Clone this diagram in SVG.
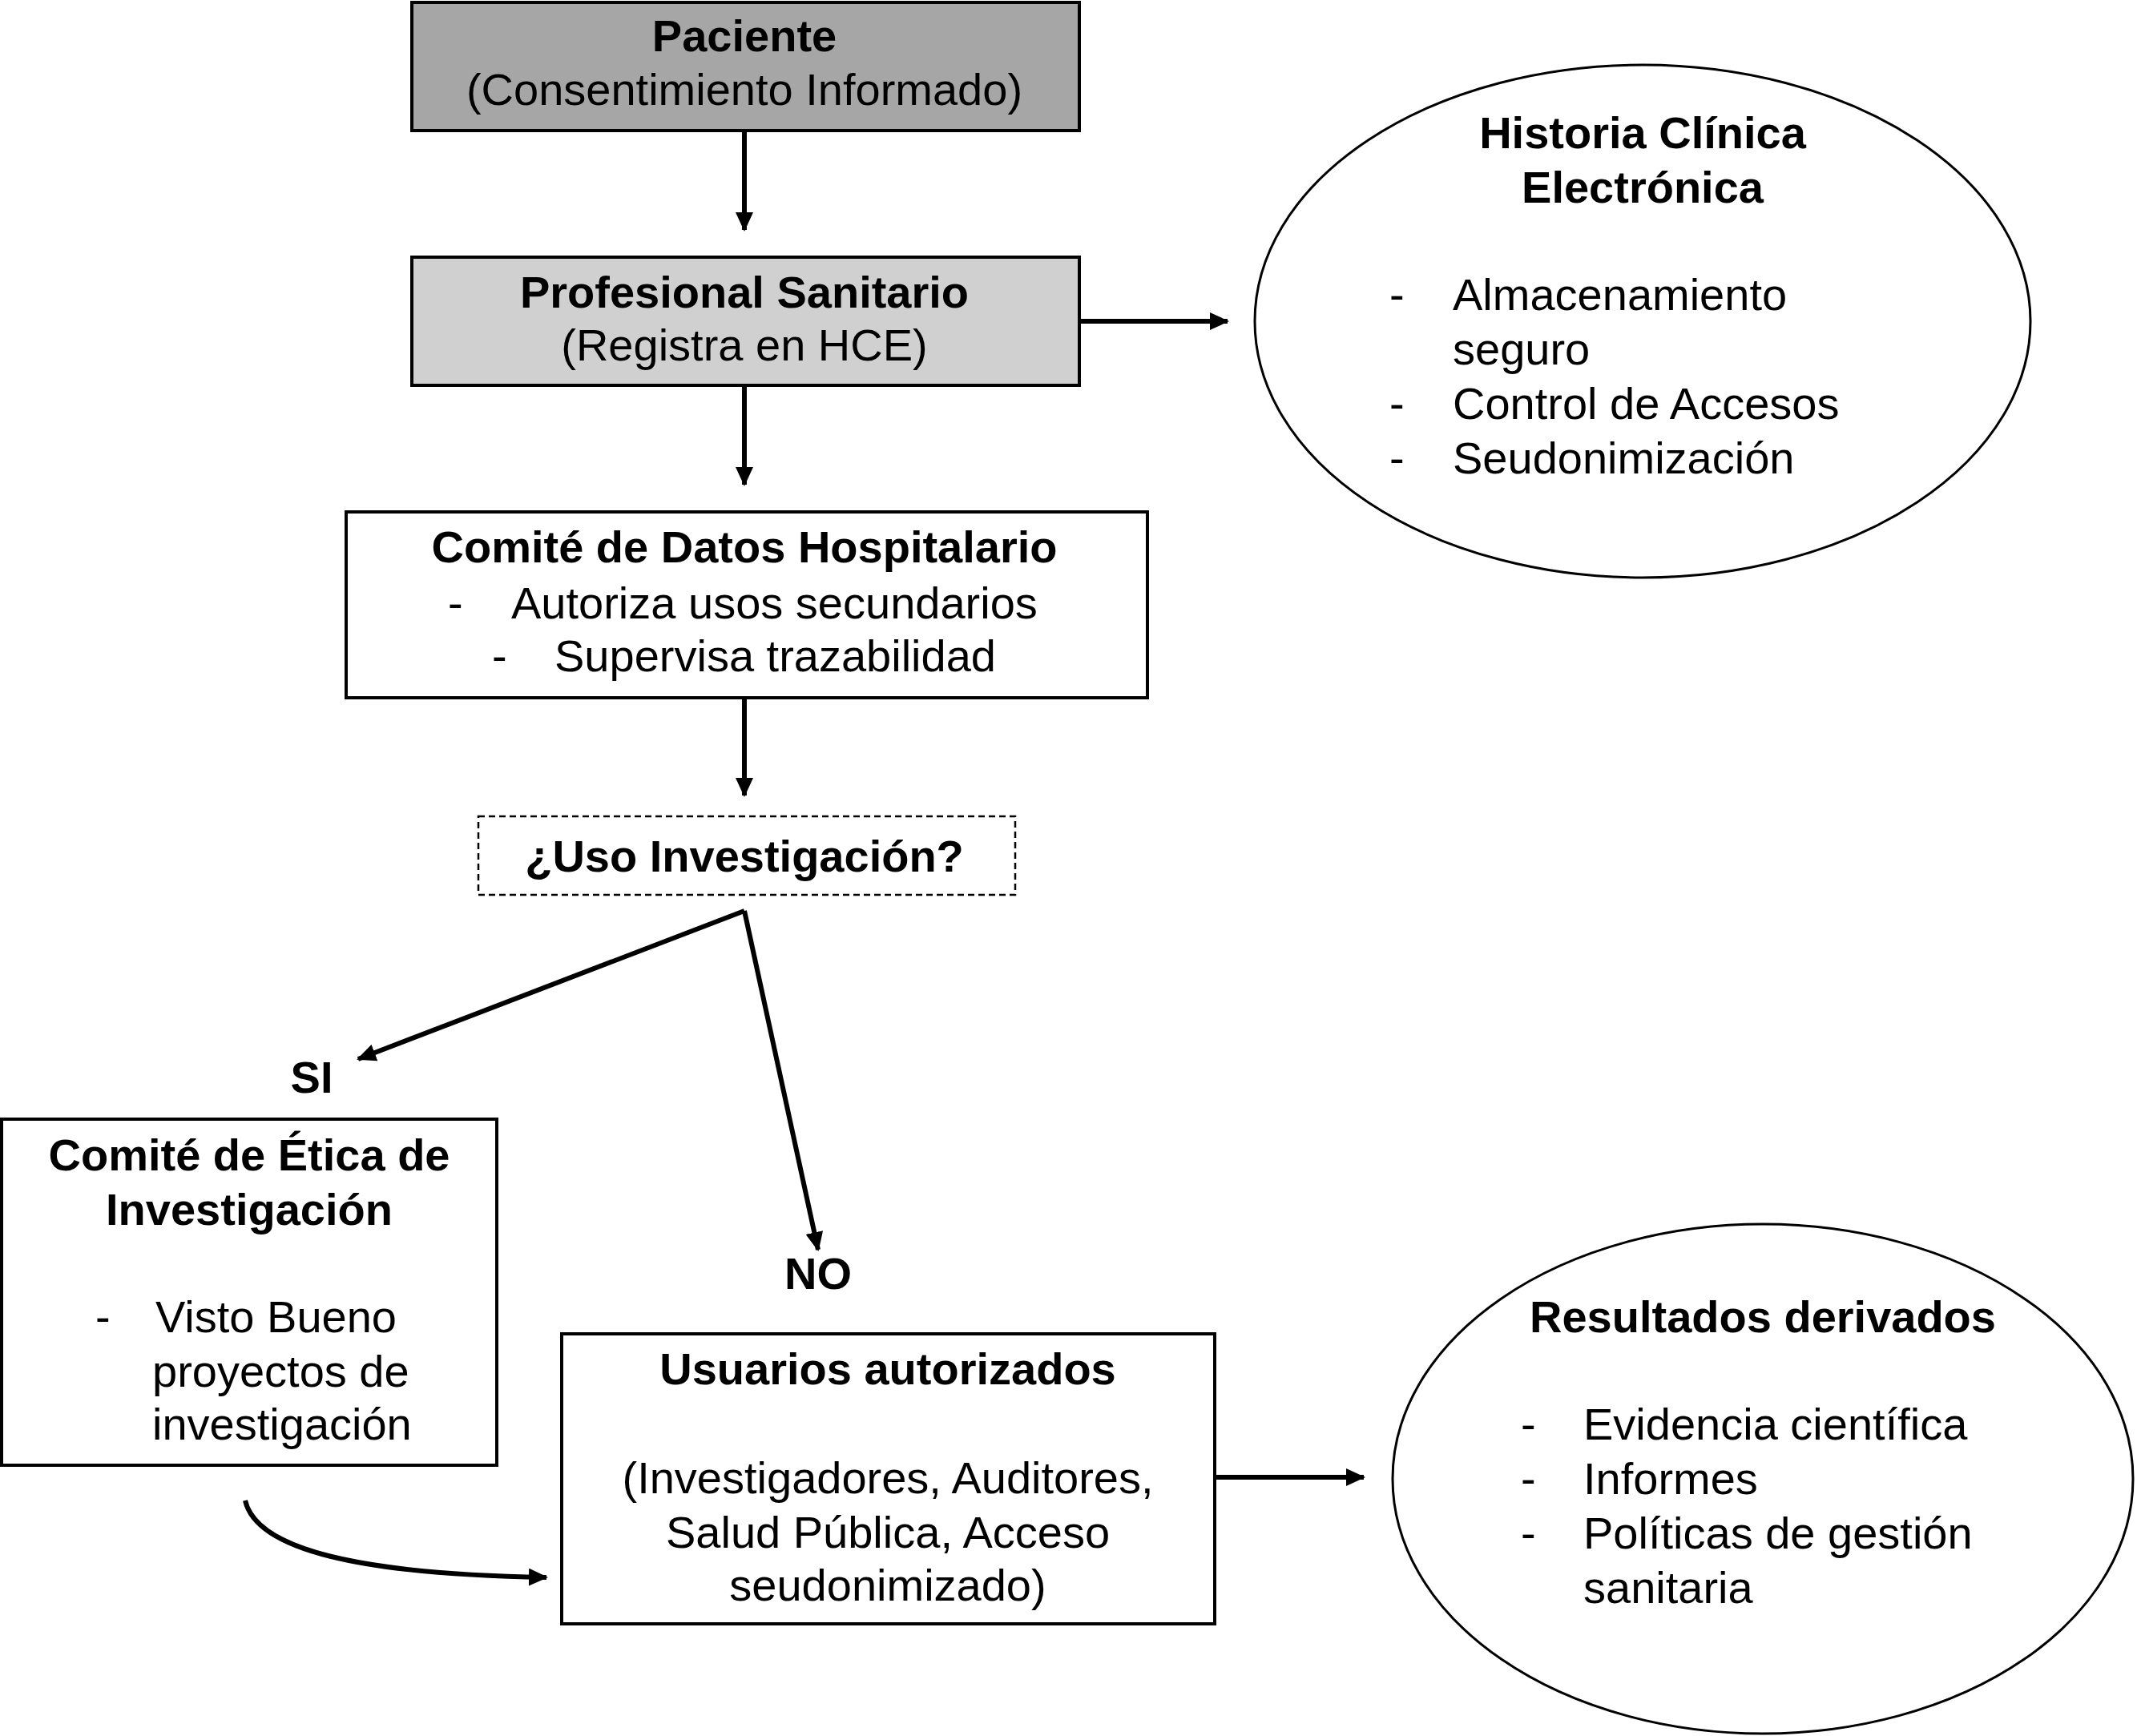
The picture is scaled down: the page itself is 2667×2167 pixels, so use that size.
<svg xmlns="http://www.w3.org/2000/svg" width="2667" height="2167" viewBox="0 0 2667 2167">
<style>
text{font-family:"Liberation Sans",Arial,Helvetica,sans-serif;font-size:56px;fill:#000}
.b{font-weight:bold}
.c{text-anchor:middle}
.box{stroke:#000;stroke-width:4}
.ell{fill:#fff;stroke:#000;stroke-width:3}
.con{fill:none;stroke:#000;stroke-width:6}
</style>
<defs>
<marker id="ah" markerUnits="userSpaceOnUse" markerWidth="24" markerHeight="22" refX="22" refY="11" orient="auto">
<path d="M0,0 L24,11 L0,22 z" fill="#000"/>
</marker>
</defs>
<rect width="2667" height="2167" fill="#fff"/>
<g id="connectors">
<line class="con" x1="929" y1="163" x2="929" y2="287" marker-end="url(#ah)"/>
<line class="con" x1="1347" y1="401" x2="1532" y2="401" marker-end="url(#ah)"/>
<line class="con" x1="929" y1="481" x2="929" y2="605" marker-end="url(#ah)"/>
<line class="con" x1="929" y1="871" x2="929" y2="993" marker-end="url(#ah)"/>
<line class="con" x1="929" y1="1137" x2="1021" y2="1560" marker-end="url(#ah)"/>
<line class="con" x1="929" y1="1137" x2="447" y2="1322" marker-end="url(#ah)"/>
<path class="con" d="M306,1873 C320,1935 450,1965 682,1969" marker-end="url(#ah)"/>
<line class="con" x1="1516" y1="1844" x2="1702" y2="1844" marker-end="url(#ah)"/>
</g>
<g id="paciente">
<rect class="box" x="514" y="3" width="833" height="160" fill="#a6a6a6"/>
<text class="b c" x="929" y="64">Paciente</text>
<text class="c" x="929" y="131">(Consentimiento Informado)</text>
</g>
<g id="profesional">
<rect class="box" x="514" y="321" width="833" height="160" fill="#d0d0d0"/>
<text class="b c" x="929" y="384">Profesional Sanitario</text>
<text class="c" x="929" y="450">(Registra en HCE)</text>
</g>
<g id="hce">
<ellipse class="ell" cx="2050" cy="401" rx="484" ry="320"/>
<text class="b c" x="2050" y="185">Historia Clínica</text>
<text class="b c" x="2050" y="253">Electrónica</text>
<text x="1734" y="387">-</text><text x="1813" y="387">Almacenamiento</text>
<text x="1813" y="455">seguro</text>
<text x="1734" y="523">-</text><text x="1813" y="523">Control de Accesos</text>
<text x="1734" y="591">-</text><text x="1813" y="591">Seudonimización</text>
</g>
<g id="comite-datos">
<rect class="box" x="432" y="639" width="1000" height="232" fill="#fff"/>
<text class="b c" x="929" y="702">Comité de Datos Hospitalario</text>
<text x="559" y="772">-</text><text x="638" y="772">Autoriza usos secundarios</text>
<text x="614" y="838">-</text><text x="692" y="838">Supervisa trazabilidad</text>
</g>
<g id="uso-investigacion">
<rect x="597" y="1019" width="670" height="98" fill="#fff" stroke="#000" stroke-width="2.5" stroke-dasharray="8,5"/>
<text class="b c" x="929" y="1088">¿Uso Investigación?</text>
</g>
<g id="label-si">
<text class="b c" x="389" y="1364">SI</text>
</g>
<g id="label-no">
<text class="b c" x="1021" y="1609">NO</text>
</g>
<g id="comite-etica">
<rect class="box" x="2" y="1397" width="618" height="432" fill="#fff"/>
<text class="b c" x="311" y="1461">Comité de Ética de</text>
<text class="b c" x="311" y="1529">Investigación</text>
<text x="119" y="1663">-</text><text x="194" y="1663">Visto Bueno</text>
<text x="190" y="1731">proyectos de</text>
<text x="190" y="1797">investigación</text>
</g>
<g id="usuarios">
<rect class="box" x="701" y="1665" width="815" height="362" fill="#fff"/>
<text class="b c" x="1108" y="1728">Usuarios autorizados</text>
<text class="c" x="1108" y="1864">(Investigadores, Auditores,</text>
<text class="c" x="1108" y="1932">Salud Pública, Acceso</text>
<text class="c" x="1108" y="1998">seudonimizado)</text>
</g>
<g id="resultados">
<ellipse class="ell" cx="2200" cy="1846" rx="462" ry="318"/>
<text class="b c" x="2200" y="1663">Resultados derivados</text>
<text x="1898" y="1797">-</text><text x="1976" y="1797">Evidencia científica</text>
<text x="1898" y="1865">-</text><text x="1976" y="1865">Informes</text>
<text x="1898" y="1933">-</text><text x="1976" y="1933">Políticas de gestión</text>
<text x="1976" y="2001">sanitaria</text>
</g>
</svg>
